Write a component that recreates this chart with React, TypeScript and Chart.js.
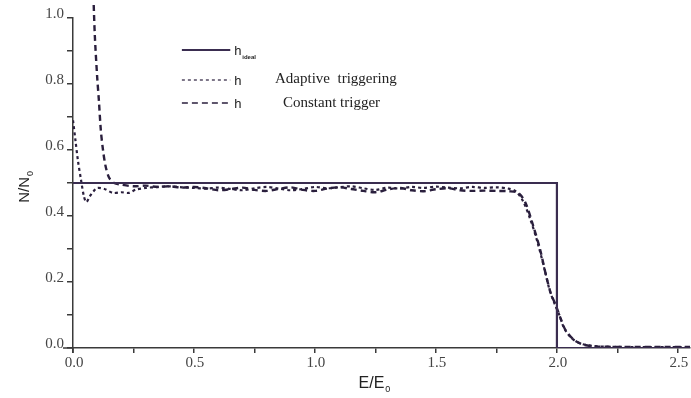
import React, { useEffect, useRef } from "react";
import { Chart, registerables } from "chart.js";

Chart.register(...registerables);

// ---- data ----
const idealE = [0, 2.0, 2.0, 2.55];
const idealN = [0.5, 0.5, 0.0, 0.0];

const adaptiveE = [
  0, 0.01, 0.02, 0.033, 0.045, 0.055, 0.07, 0.085, 0.1, 0.13, 0.165, 0.2, 0.23, 0.26,
  0.3, 0.35, 0.4, 0.45, 0.5, 0.55, 0.6, 0.65, 0.7, 0.75, 0.8, 0.85, 0.9, 0.95, 1.0,
  1.05, 1.1, 1.15, 1.2, 1.25, 1.3, 1.35, 1.4, 1.45, 1.5, 1.55, 1.6, 1.65, 1.7, 1.75,
  1.8, 1.83, 1.86, 1.89, 1.92, 1.95, 1.97, 1.99, 2.01, 2.03, 2.06, 2.1, 2.15, 2.2,
  2.3, 2.4, 2.55,
];
const adaptiveN = [
  0.69, 0.63, 0.57, 0.51, 0.46, 0.442, 0.46, 0.475, 0.485, 0.482, 0.47, 0.472, 0.47, 0.48,
  0.485, 0.488, 0.49, 0.487, 0.485, 0.483, 0.486, 0.482, 0.478, 0.484, 0.488, 0.483, 0.478, 0.482, 0.488,
  0.484, 0.487, 0.49, 0.484, 0.479, 0.486, 0.483, 0.488, 0.485, 0.489, 0.486, 0.484, 0.488, 0.485, 0.487,
  0.483, 0.475, 0.445, 0.39, 0.32, 0.235, 0.175, 0.135, 0.1, 0.06, 0.03, 0.013, 0.006, 0.004,
  0.003, 0.003, 0.003,
];

const constantE = [
  0.083, 0.09, 0.1, 0.107, 0.115, 0.124, 0.135, 0.15, 0.17, 0.2, 0.25, 0.3, 0.35, 0.4,
  0.45, 0.5, 0.55, 0.6, 0.65, 0.7, 0.75, 0.8, 0.85, 0.9, 0.95, 1.0, 1.05, 1.1, 1.15,
  1.2, 1.25, 1.3, 1.35, 1.4, 1.45, 1.5, 1.55, 1.6, 1.65, 1.7, 1.75, 1.8, 1.84, 1.87,
  1.9, 1.93, 1.955, 1.975, 1.995, 2.015, 2.035, 2.07, 2.11, 2.16, 2.25, 2.4, 2.55,
];
const constantN = [
  1.1, 0.95, 0.82, 0.75, 0.66, 0.6, 0.55, 0.515, 0.5, 0.495, 0.49, 0.492, 0.488, 0.49,
  0.486, 0.488, 0.484, 0.478, 0.481, 0.486, 0.479, 0.476, 0.482, 0.487, 0.479, 0.476, 0.483, 0.487, 0.482,
  0.476, 0.472, 0.48, 0.485, 0.478, 0.475, 0.481, 0.484, 0.478, 0.476, 0.477, 0.476, 0.475, 0.47, 0.44,
  0.375, 0.3, 0.22, 0.165, 0.13, 0.09, 0.055, 0.025, 0.01, 0.005, 0.003, 0.003, 0.003,
];

const yTicks = [0, 0.2, 0.4, 0.6, 0.8, 1.0];
const xTicks = [0, 0.5, 1.0, 1.5, 2.0, 2.5];

const legendLabels = ["Adaptive  triggering", "Constant trigger"];

const toPts = (xs: number[], ys: number[]) => xs.map((x, i) => ({ x, y: ys[i] }));

const LINE = "#2a1f3d";
const IDEAL = "#3a2d50";
const AXIS = "#3a3a3a";

const overlay = {
  id: "overlay",
  afterDraw(chart: any) {
    const ctx = chart.ctx as CanvasRenderingContext2D;
    const xs = chart.scales.x;
    const ys = chart.scales.y;
    ctx.save();
    ctx.strokeStyle = AXIS;
    ctx.lineWidth = 1.5;
    ctx.beginPath();
    ctx.moveTo(xs.left - 10, ys.bottom);
    ctx.lineTo(xs.left, ys.bottom);
    ctx.moveTo(xs.left, ys.bottom);
    ctx.lineTo(xs.left, ys.bottom + 5);
    ctx.stroke();

    // y title N/N0
    ctx.fillStyle = "#222";
    ctx.save();
    ctx.translate(29, ys.getPixelForValue(0.44));
    ctx.rotate(-Math.PI / 2);
    ctx.font = "15px 'Liberation Sans', Arial, sans-serif";
    ctx.textBaseline = "alphabetic";
    ctx.textAlign = "left";
    const nw = ctx.measureText("N/N").width;
    ctx.fillText("N/N", 0, 0);
    ctx.font = "9px 'Liberation Sans', Arial, sans-serif";
    ctx.fillText("0", nw + 1, 4);
    ctx.restore();

    // x title E/E0
    ctx.font = "16px 'Liberation Sans', Arial, sans-serif";
    ctx.textBaseline = "alphabetic";
    ctx.textAlign = "left";
    const ew = ctx.measureText("E/E").width;
    const ex = xs.getPixelForValue(1.18);
    ctx.fillText("E/E", ex, 388);
    ctx.font = "9px 'Liberation Sans', Arial, sans-serif";
    ctx.fillText("0", ex + ew + 1, 392);

    // legend
    const lx0 = xs.getPixelForValue(0.45);
    const lx1 = xs.getPixelForValue(0.65);
    const rows = [50, 80, 103];
    ctx.strokeStyle = IDEAL;
    ctx.lineWidth = 2.2;
    ctx.setLineDash([]);
    ctx.beginPath();
    ctx.moveTo(lx0, rows[0]);
    ctx.lineTo(lx1, rows[0]);
    ctx.stroke();
    ctx.strokeStyle = LINE;
    ctx.lineWidth = 1.2;
    ctx.setLineDash([3, 3]);
    ctx.beginPath();
    ctx.moveTo(lx0, rows[1]);
    ctx.lineTo(lx1, rows[1]);
    ctx.stroke();
    ctx.lineWidth = 1.4;
    ctx.setLineDash([6, 4]);
    ctx.beginPath();
    ctx.moveTo(lx0, rows[2]);
    ctx.lineTo(lx1, rows[2]);
    ctx.stroke();
    ctx.setLineDash([]);

    ctx.fillStyle = "#222";
    ctx.textBaseline = "alphabetic";
    ctx.font = "13px 'Liberation Sans', Arial, sans-serif";
    const hx = lx1 + 4;
    ctx.fillText("h", hx, rows[0] + 5);
    ctx.font = "bold 6px 'Liberation Sans', Arial, sans-serif";
    ctx.fillText("ideal", hx + 8, rows[0] + 9);
    ctx.font = "13px 'Liberation Sans', Arial, sans-serif";
    ctx.fillText("h", hx, rows[1] + 5);
    ctx.fillText("h", hx, rows[2] + 5);
    ctx.font = "15px 'Liberation Serif', 'Times New Roman', serif";
    ctx.fillText(legendLabels[0], 275, rows[1] + 3);
    ctx.fillText(legendLabels[1], 283, rows[2] + 4);
    ctx.restore();
  },
};

export default function App() {
  const ref = useRef<HTMLCanvasElement | null>(null);
  useEffect(() => {
    document.body.style.margin = "0";
    const canvas = ref.current!;
    const tickFont = { family: "'Liberation Serif', 'Times New Roman', serif", size: 15 };
    const chart = new Chart(canvas, {
      type: "scatter",
      data: {
        datasets: [
          {
            label: "ideal",
            data: toPts(idealE, idealN),
            showLine: true,
            borderColor: IDEAL,
            borderWidth: 2.2,
            pointRadius: 0,
            tension: 0,
          },
          {
            label: "adaptive",
            data: toPts(adaptiveE, adaptiveN),
            showLine: true,
            borderColor: LINE,
            borderWidth: 2.2,
            borderDash: [3, 3],
            pointRadius: 0,
            tension: 0.3,
          },
          {
            label: "constant",
            data: toPts(constantE, constantN),
            showLine: true,
            borderColor: LINE,
            borderWidth: 2.4,
            borderDash: [6, 4],
            pointRadius: 0,
            tension: 0.3,
            clip: { left: 0, top: 15, right: 0, bottom: 0 } as any,
          },
        ],
      },
      options: {
        responsive: false,
        animation: false,
        layout: { padding: { top: 18, right: 1, left: 0, bottom: 0 } },
        plugins: { legend: { display: false }, tooltip: { enabled: false } },
        scales: {
          x: {
            type: "linear",
            min: 0,
            max: 2.55,
            afterFit: (s: any) => {
              s.height = 50;
            },
            afterBuildTicks: (s: any) => {
              const t = [];
              for (let i = 0; i <= 10; i++) t.push({ value: i * 0.25 });
              s.ticks = t;
            },
            ticks: {
              font: tickFont,
              color: "#444",
              padding: 1,
              labelOffset: 1,
              maxRotation: 0,
              autoSkip: false,
              callback: (v: any) => {
                const f = xTicks.find((t) => Math.abs(t - v) < 1e-6);
                return f === undefined ? "" : f.toFixed(1);
              },
            },
            grid: { drawOnChartArea: false, drawTicks: true, tickLength: 5, color: AXIS, lineWidth: 1.5 },
            border: { display: true, color: AXIS, width: 1.5 },
          },
          y: {
            type: "linear",
            min: 0,
            max: 1.0,
            afterFit: (s: any) => {
              s.width = 73;
            },
            afterBuildTicks: (s: any) => {
              const t = [];
              for (let i = 0; i <= 10; i++) t.push({ value: i * 0.1 });
              s.ticks = t;
            },
            ticks: {
              font: tickFont,
              color: "#444",
              padding: 3,
              labelOffset: -4,
              autoSkip: false,
              callback: (v: any) => {
                const f = yTicks.find((t) => Math.abs(t - v) < 1e-6);
                return f === undefined ? "" : f.toFixed(1);
              },
            },
            grid: { drawOnChartArea: false, drawTicks: true, tickLength: 6, color: AXIS, lineWidth: 1.5 },
            border: { display: true, color: AXIS, width: 1.5 },
          },
        },
      },
      plugins: [overlay],
    });
    return () => chart.destroy();
  }, []);
  return <canvas ref={ref} width={691} height={398} style={{ display: "block" }} />;
}
